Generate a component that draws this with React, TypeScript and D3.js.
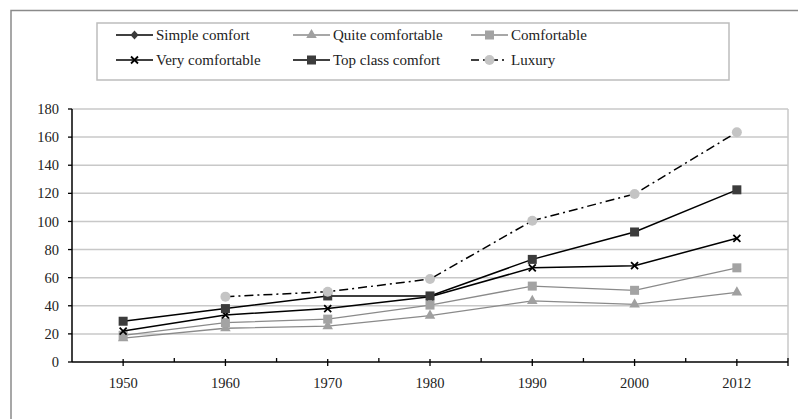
// @ts-nocheck
import * as d3 from "d3";
import { useRef, useEffect } from "react";

const years = ["1950", "1960", "1970", "1980", "1990", "2000", "2012"];
const simpleComfort = [null, null, null, null, null, null, null];
const quiteComfortable = [17, 24, 25.5, 33, 43.5, 41, 49.5];
const comfortable = [19, 28, 30.5, 40.5, 54, 51, 67];
const veryComfortable = [22, 33.5, 38, 46.5, 67, 68.5, 88];
const topClassComfort = [29, 38, 47, 47, 73, 92.5, 122.5];
const luxury = [null, 46.5, 50, 59, 100.5, 119.5, 163.5];
const yTicks = [0, 20, 40, 60, 80, 100, 120, 140, 160, 180];

const series = [
  { name: "Simple comfort", values: simpleComfort, line: "#000", lw: 1.5, marker: "diamond", fill: "#3a3a3a", dash: null },
  { name: "Quite comfortable", values: quiteComfortable, line: "#8a8a8a", lw: 1.3, marker: "triangle", fill: "#a0a0a0", dash: null },
  { name: "Comfortable", values: comfortable, line: "#8a8a8a", lw: 1.3, marker: "square", fill: "#a3a3a3", dash: null },
  { name: "Very comfortable", values: veryComfortable, line: "#000", lw: 1.5, marker: "cross", fill: "#000", dash: null },
  { name: "Top class comfort", values: topClassComfort, line: "#000", lw: 1.5, marker: "square", fill: "#3c3c3c", dash: null },
  { name: "Luxury", values: luxury, line: "#000", lw: 1.5, marker: "circle", fill: "#c4c4c4", dash: "9,4,2,4" },
];

const font = "'Liberation Serif', 'DejaVu Serif', 'Noto Serif', Tinos, 'Times New Roman', Times, Georgia, serif";

export default function App() {
  const ref = useRef();

  useEffect(() => {
    const svg = d3.select(ref.current);
    svg.selectAll("*").remove();

    const left = 72, right = 788, top = 109, bottom = 362;

    const x = d3.scaleBand().domain(years).range([left, right]);
    const y = d3.scaleLinear().domain([0, 180]).range([bottom, top]);

    // outer frame (cropped)
    svg.append("path")
      .attr("d", "M11,419 V10.5 H798")
      .attr("fill", "none")
      .attr("stroke", "#8a8a8a")
      .attr("stroke-width", 1.5);

    // gridlines
    svg.append("g")
      .selectAll("line")
      .data(yTicks.filter((d) => d > 0))
      .enter()
      .append("line")
      .attr("x1", left)
      .attr("x2", right)
      .attr("y1", (d) => y(d))
      .attr("y2", (d) => y(d))
      .attr("stroke", "#c8c8c8")
      .attr("stroke-width", 1.5);

    // plot area right border
    svg.append("line")
      .attr("x1", right).attr("x2", right)
      .attr("y1", top).attr("y2", bottom)
      .attr("stroke", "#c8c8c8")
      .attr("stroke-width", 1.5);

    // y axis
    svg.append("line")
      .attr("x1", left).attr("x2", left)
      .attr("y1", top).attr("y2", bottom)
      .attr("stroke", "#000").attr("stroke-width", 1.5);
    const yg = svg.append("g");
    yg.selectAll("line")
      .data(yTicks)
      .enter()
      .append("line")
      .attr("x1", left - 4).attr("x2", left)
      .attr("y1", (d) => y(d)).attr("y2", (d) => y(d))
      .attr("stroke", "#000").attr("stroke-width", 1.3);
    yg.selectAll("text")
      .data(yTicks)
      .enter()
      .append("text")
      .attr("x", left - 13)
      .attr("y", (d) => y(d))
      .attr("dy", "0.35em")
      .attr("text-anchor", "end")
      .style("font-family", font)
      .style("font-size", "14.5px")
      .attr("fill", "#222")
      .text((d) => d);

    // x axis
    svg.append("line")
      .attr("x1", left).attr("x2", right)
      .attr("y1", bottom).attr("y2", bottom)
      .attr("stroke", "#000").attr("stroke-width", 1.5);
    const xg = svg.append("g");
    const center = (d) => x(d) + x.bandwidth() / 2;
    xg.selectAll("line.major")
      .data(years)
      .enter()
      .append("line")
      .attr("x1", center).attr("x2", center)
      .attr("y1", bottom - 3).attr("y2", bottom + 4)
      .attr("stroke", "#000").attr("stroke-width", 1.3);
    xg.selectAll("line.minor")
      .data(years.slice(1))
      .enter()
      .append("line")
      .attr("x1", (d) => x(d)).attr("x2", (d) => x(d))
      .attr("y1", bottom - 4).attr("y2", bottom)
      .attr("stroke", "#000").attr("stroke-width", 1.3);
    xg.append("line")
      .attr("x1", right).attr("x2", right)
      .attr("y1", bottom - 4).attr("y2", bottom + 4)
      .attr("stroke", "#000").attr("stroke-width", 1.3);
    xg.selectAll("text")
      .data(years)
      .enter()
      .append("text")
      .attr("x", center)
      .attr("y", bottom + 26)
      .attr("text-anchor", "middle")
      .style("font-family", font)
      .style("font-size", "14.5px")
      .attr("fill", "#222")
      .text((d) => d);

    const drawMarker = (g, s, cx, cy) => {
      if (s.marker === "square") {
        g.append("rect")
          .attr("x", cx - 4.5).attr("y", cy - 4.5)
          .attr("width", 9).attr("height", 9)
          .attr("fill", s.fill);
      } else if (s.marker === "circle") {
        g.append("circle").attr("cx", cx).attr("cy", cy).attr("r", 5).attr("fill", s.fill);
      } else if (s.marker === "triangle") {
        g.append("path")
          .attr("d", d3.symbol(d3.symbolTriangle, 48)())
          .attr("transform", `translate(${cx},${cy})`)
          .attr("fill", s.fill);
      } else if (s.marker === "diamond") {
        g.append("path")
          .attr("d", `M${cx},${cy - 4.5}L${cx + 4},${cy}L${cx},${cy + 4.5}L${cx - 4},${cy}Z`)
          .attr("fill", s.fill);
      } else if (s.marker === "cross") {
        g.append("path")
          .attr("d", `M${cx - 3.5},${cy - 3.5}L${cx + 3.5},${cy + 3.5}M${cx - 3.5},${cy + 3.5}L${cx + 3.5},${cy - 3.5}`)
          .attr("stroke", s.fill)
          .attr("stroke-width", 1.8);
      }
    };

    const line = d3
      .line()
      .defined((d) => d.v != null)
      .x((d) => center(d.year))
      .y((d) => y(d.v));

    series.forEach((s) => {
      const pts = years.map((year, i) => ({ year, v: s.values[i] }));
      const g = svg.append("g");
      g.append("path")
        .attr("d", line(pts))
        .attr("fill", "none")
        .attr("stroke", s.line)
        .attr("stroke-width", s.lw)
        .attr("stroke-dasharray", s.dash);
      pts.filter((p) => p.v != null).forEach((p) => drawMarker(g, s, center(p.year), y(p.v)));
    });

    // legend
    const lg = svg.append("g");
    lg.append("rect")
      .attr("x", 97).attr("y", 23)
      .attr("width", 632).attr("height", 57)
      .attr("fill", "#fff")
      .attr("stroke", "#bdbdbd")
      .attr("stroke-width", 1.5);
    const colX = [116, 293, 471];
    const rowY = [35, 60];
    series.forEach((s, i) => {
      const lx = colX[i % 3];
      const ly = rowY[Math.floor(i / 3)];
      lg.append("line")
        .attr("x1", lx).attr("x2", lx + 37)
        .attr("y1", ly).attr("y2", ly)
        .attr("stroke", s.line)
        .attr("stroke-width", s.lw)
        .attr("stroke-dasharray", s.dash ? "9,4,2,4" : null)
        .attr("stroke-dashoffset", s.dash ? 1 : null);
      drawMarker(lg, s, lx + 18.5, ly);
      lg.append("text")
        .attr("x", lx + 40)
        .attr("y", ly)
        .attr("dy", "0.35em")
        .style("font-family", font)
        .style("font-size", "15px")
        .attr("fill", "#222")
        .text(s.name);
    });
  }, []);

  return (
    <svg
      ref={ref}
      width={798}
      height={419}
      style={{ position: "absolute", left: 0, top: 0, background: "#fff" }}
    ></svg>
  );
}
